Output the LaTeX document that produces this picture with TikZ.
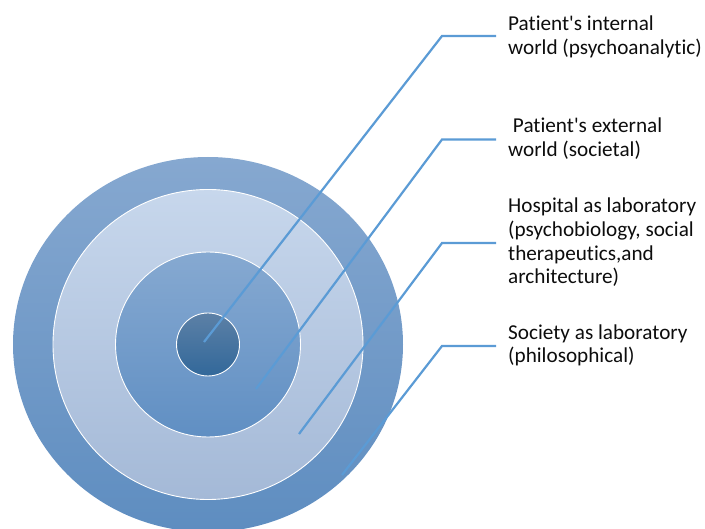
\documentclass[tikz,border=0pt]{standalone}
\usepackage{fontspec}
\setmainfont{Carlito}[Ligatures={NoCommon}]
\begin{document}
\begin{tikzpicture}[x=1pt,y=-1pt,
  ring/.style={draw=white,line width=0.9pt},
  leader/.style={draw=leadblue,line width=2.2pt,line join=miter},
  label/.style={anchor=base west,align=left,inner sep=0pt,
    font=\fontsize{21.2}{23.6}\selectfont,text=black!95}]
\definecolor{leadblue}{HTML}{5B9BD5}
\useasboundingbox (0,0) rectangle (705,529);
\coordinate (c) at (208,344.5);
% concentric target
\shade[top color={rgb,255:red,134;green,168;blue,208},bottom color={rgb,255:red,94;green,141;blue,192}]
  (c) ellipse [x radius=195,y radius=187.5];
\shade[ring,top color={rgb,255:red,199;green,215;blue,236},bottom color={rgb,255:red,164;green,185;blue,215}]
  (c) circle [radius=155];
\shade[ring,top color={rgb,255:red,134;green,169;blue,209},bottom color={rgb,255:red,96;green,143;blue,195}]
  (c) circle [radius=92.5];
\shade[ring,top color={rgb,255:red,92;green,128;blue,166},bottom color={rgb,255:red,50;green,104;blue,154}]
  (c) circle [radius=31.5];
% leader end points
\coordinate (s1) at (204,342);
\coordinate (k1) at (442,36);
\coordinate (e1) at (496,36);
\coordinate (s2) at (256,389);
\coordinate (k2) at (442,139.5);
\coordinate (e2) at (496,139.5);
\coordinate (s3) at (299,434);
\coordinate (k3) at (442,243);
\coordinate (e3) at (496,243);
\coordinate (s4) at (342,475);
\coordinate (k4) at (442,346);
\coordinate (e4) at (496,346);
\draw[leader] (s1) -- (k1) -- (e1);
\draw[leader] (s2) -- (k2) -- (e2);
\draw[leader] (s3) -- (k3) -- (e3);
\draw[leader] (s4) -- (k4) -- (e4);
% labels (anchored at the baseline of their last line)
\node[label] (t1) at (508,54.5) {Patient\textquotesingle s internal\\world (psychoanalytic)};
\node[label] (t2) at (508,156.5) {\ Patient\textquotesingle s external\\world (societal)};
\node[label] (t3) at (508,283.8) {Hospital as laboratory\\(psychobiology, social\\therapeutics,and\\architecture)};
\node[label] (t4) at (508,363) {Society as laboratory\\(philosophical)};
\end{tikzpicture}
\end{document}
